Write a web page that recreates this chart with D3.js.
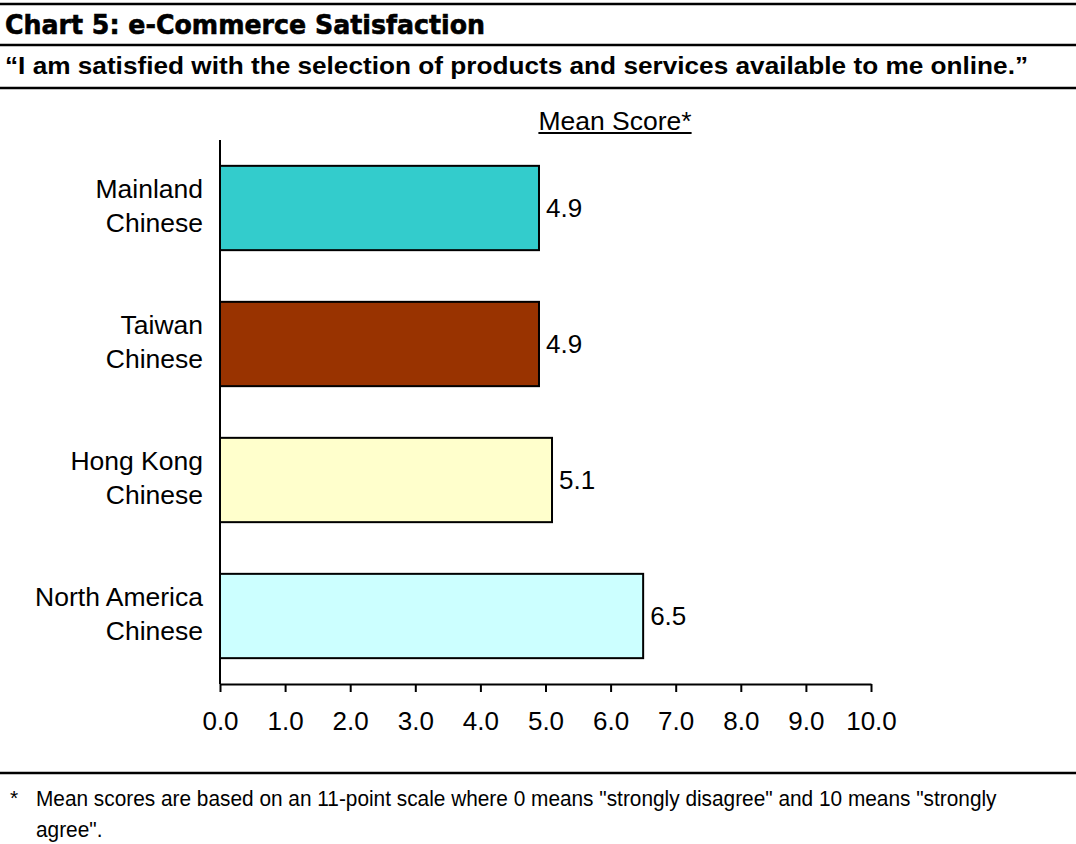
<!DOCTYPE html>
<html>
<head>
<meta charset="utf-8">
<script src="https://cdn.jsdelivr.net/npm/d3@7"></script>
<style>
  html, body { margin: 0; padding: 0; background: #fff; }
  svg { display: block; }
</style>
</head>
<body>
<svg id="chart" width="1076" height="844" font-family="'Liberation Sans', Arial, sans-serif"></svg>
<script>
// Survey groups (two-line labels) and their mean scores
const groupLines = [
  ["Mainland", "Chinese"],
  ["Taiwan", "Chinese"],
  ["Hong Kong", "Chinese"],
  ["North America", "Chinese"]
];
const groups = ["Mainland Chinese", "Taiwan Chinese", "Hong Kong Chinese", "North America Chinese"];
const meanScores = [4.9, 4.9, 5.1, 6.5];
const barColors = ["#33CCCC", "#993300", "#FFFFCC", "#CCFFFF"];
const tickValues = [0, 1, 2, 3, 4, 5, 6, 7, 8, 9, 10];

const titleText = "Chart 5: e-Commerce Satisfaction";
const subtitleText = "\u201CI am satisfied with the selection of products and services available to me online.\u201D";
const axisTitle = "Mean Score*";
const footnoteLines = [
  "Mean scores are based on an 11-point scale where 0 means \"strongly disagree\" and 10 means \"strongly",
  "agree\"."
];

const W = 1076, H = 844;
const svg = d3.select("#chart");

// Header rules and text
const rule = (y, w) => svg.append("line")
  .attr("x1", 0).attr("x2", W).attr("y1", y).attr("y2", y)
  .attr("stroke", "#000").attr("stroke-width", w);
rule(4, 2.5);
rule(45, 2.5);
rule(88, 2.5);
rule(773, 2.5);

svg.append("text")
  .attr("x", 5).attr("y", 34)
  .attr("font-family", "'DejaVu Sans', sans-serif")
  .attr("font-weight", "bold")
  .attr("font-size", 27)
  .attr("textLength", 480)
  .attr("lengthAdjust", "spacingAndGlyphs")
  .attr("stroke", "#000")
  .attr("stroke-width", 0.6)
  .text(titleText);

svg.append("text")
  .attr("x", 5).attr("y", 74)
  .attr("font-weight", "bold")
  .attr("font-size", 24)
  .attr("textLength", 1023)
  .attr("lengthAdjust", "spacingAndGlyphs")
  .text(subtitleText);

// Plot area
const x = d3.scaleLinear().domain([0, 10]).range([220, 871]);
const y = d3.scaleBand().domain(groups).range([140, 684])
  .paddingInner(0.38).paddingOuter(0.19);

// Bars
svg.append("g").selectAll("rect")
  .data(groups)
  .join("rect")
  .attr("x", x(0))
  .attr("y", d => y(d))
  .attr("width", (d, i) => x(meanScores[i]) - x(0))
  .attr("height", y.bandwidth())
  .attr("fill", (d, i) => barColors[i])
  .attr("stroke", "#000")
  .attr("stroke-width", 2);

// Value labels
svg.append("g").selectAll("text")
  .data(groups)
  .join("text")
  .attr("x", (d, i) => x(meanScores[i]) + 7)
  .attr("y", d => y(d) + y.bandwidth() / 2)
  .attr("dy", "0.35em")
  .attr("font-size", 26)
  .text((d, i) => meanScores[i].toFixed(1));

// X axis
const xAxis = svg.append("g")
  .attr("transform", "translate(0,684)")
  .call(d3.axisBottom(x).tickValues(tickValues).tickFormat(d3.format(".1f"))
    .tickSize(8).tickPadding(20).tickSizeOuter(0));
xAxis.select(".domain").attr("stroke", "#000").attr("stroke-width", 2);
xAxis.selectAll(".tick line").attr("stroke", "#000").attr("stroke-width", 2);
xAxis.selectAll(".tick text")
  .attr("font-family", "'Liberation Sans', Arial, sans-serif")
  .attr("font-size", 26)
  .attr("fill", "#000");

// Y axis line
svg.append("line")
  .attr("x1", x(0)).attr("x2", x(0))
  .attr("y1", 140).attr("y2", 684)
  .attr("stroke", "#000").attr("stroke-width", 2);

// Category labels
const catLabels = svg.append("g").selectAll("text")
  .data(groups)
  .join("text")
  .attr("text-anchor", "end")
  .attr("font-size", 26.5)
  .attr("y", d => y(d) + y.bandwidth() / 2);
catLabels.selectAll("tspan")
  .data((d, i) => groupLines[i].map((t, j) => ({ t, j })))
  .join("tspan")
  .attr("x", 203)
  .attr("dy", p => p.j === 0 ? "-0.36em" : "1.28em")
  .text(p => p.t);

// Axis title (underlined)
const at = svg.append("text")
  .attr("x", 615).attr("y", 130)
  .attr("text-anchor", "middle")
  .attr("font-size", 26.5)
  .text(axisTitle);
const atBox = at.node().getBBox();
svg.append("line")
  .attr("x1", atBox.x).attr("x2", atBox.x + atBox.width)
  .attr("y1", 133).attr("y2", 133)
  .attr("stroke", "#000").attr("stroke-width", 2);

// Footnote, set in a condensed face
svg.append("text")
  .attr("x", 10).attr("y", 805)
  .attr("font-size", 21)
  .text("*");
const foot = svg.append("g");
const f1 = foot.append("text")
  .attr("y", 806)
  .attr("font-size", 22.5)
  .text(footnoteLines[0]);
foot.append("text")
  .attr("y", 837)
  .attr("font-size", 22.5)
  .text(footnoteLines[1]);
const sx = 961 / f1.node().getComputedTextLength();
foot.attr("transform", `translate(36,0) scale(${sx},1)`);
</script>
</body>
</html>
